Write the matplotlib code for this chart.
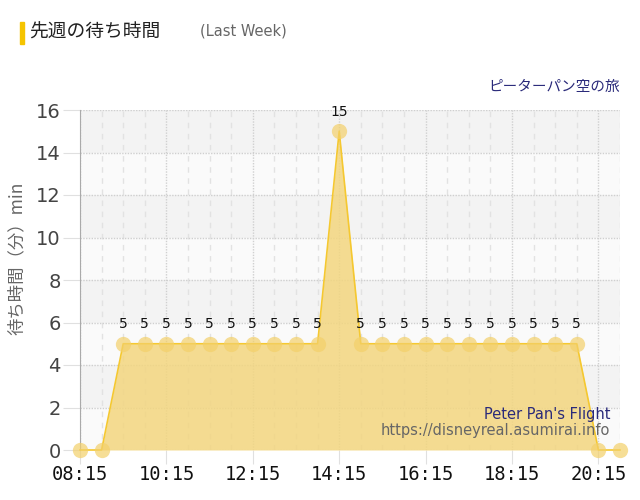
import matplotlib.pyplot as plt
from matplotlib.patches import Rectangle

plt.rcParams['font.family'] = ['Noto Sans CJK JP', 'DejaVu Sans']

# data (30 min steps)
times = ["08:15", "08:45", "09:15", "09:45", "10:15", "10:45", "11:15", "11:45",
         "12:15", "12:45", "13:15", "13:45", "14:15", "14:45", "15:15", "15:45",
         "16:15", "16:45", "17:15", "17:45", "18:15", "18:45", "19:15", "19:45",
         "20:15", "20:45"]
wait = [0, 0, 5, 5, 5, 5, 5, 5, 5, 5, 5, 5, 15, 5, 5, 5,
        5, 5, 5, 5, 5, 5, 5, 5, 0, 0]
tick_labels = ["08:15", "10:15", "12:15", "14:15", "16:15", "18:15", "20:15"]
y_ticks = [0, 2, 4, 6, 8, 10, 12, 14, 16]

FILL = "#f3d67f"
LINE = "#f5c830"
MARK = "#f3d06a"


def to_min(s):
    h, m = s.split(":")
    return int(h) * 60 + int(m)


x = [to_min(t) for t in times]

fig = plt.figure(figsize=(6.4, 5.0), dpi=100)
ax = fig.add_axes([0.125, 0.1, 0.84375, 0.68])
ax.set_xlim(x[0], x[-1])
ax.set_ylim(0, 16)

# background bands
for i in range(0, 16, 2):
    col = "#f3f3f3" if (i // 2) % 2 == 1 else "#fafafa"
    ax.add_patch(Rectangle((x[0], i), x[-1] - x[0], 2, color=col, zorder=0, lw=0))

# grid
for xv in x:
    if (xv - x[0]) % 120 == 0:
        ax.axvline(xv, color="#d0d0d0", lw=1, ls=(0, (1, 1)), zorder=1)
    else:
        ax.axvline(xv, color="#e2e2e2", lw=1, ls=(0, (4, 4)), zorder=1)
for yv in y_ticks:
    ax.axhline(yv, color="#cfcfcf", lw=1, ls=(0, (1, 1)), zorder=1)

ax.fill_between(x, wait, 0, color=FILL, alpha=0.85, lw=0, zorder=2)
ax.plot(x, wait, color=LINE, lw=1.2, zorder=3, clip_on=False)
ax.plot(x, wait, "o", ms=11, color=MARK, alpha=0.7, mec="none", zorder=4, clip_on=False)

for xv, v in zip(x, wait):
    if v > 0:
        ax.annotate(str(v), (xv, v), xytext=(0, 9), textcoords="offset points",
                    ha="center", va="bottom", fontsize=10, color="#111111",
                    family="DejaVu Sans", zorder=5)

for s in ["top", "right", "bottom"]:
    ax.spines[s].set_visible(False)
ax.spines["left"].set_color("#aaaaaa")

ax.set_yticks(y_ticks)
ax.set_yticklabels([str(v) for v in y_ticks], fontsize=14, color="#444444",
                   family="DejaVu Sans")
ax.tick_params(axis="y", length=12, color="#e0e0e0", pad=2)
ax.set_xticks([to_min(t) for t in tick_labels])
ax.set_xticklabels(tick_labels, fontsize=13.5, color="#111111", family="DejaVu Sans Mono")
ax.tick_params(axis="x", length=10, color="#e0e0e0", pad=1)

fig.text(17 / 640, 1 - 258 / 500, "待ち時間（分）min", fontsize=12.5, color="#666666",
         rotation=90, va="center", ha="center")

# title
fig.patches.append(Rectangle((20 / 640, 1 - 44 / 500), 4 / 640, 22 / 500,
                             transform=fig.transFigure, color="#f5c400"))
fig.text(29 / 640, 1 - 32 / 500, "先週の待ち時間", fontsize=13.5, color="#222222",
         va="center", ha="left")
fig.text(200 / 640, 1 - 31 / 500, "(Last Week)", fontsize=10.5, color="#666666",
         va="center", ha="left", family="DejaVu Sans")
fig.text(620 / 640, 1 - 87 / 500, "ピーターパン空の旅", fontsize=10.5, color="#2a2a7a",
         va="center", ha="right")
fig.text(610 / 640, 1 - 415 / 500, "Peter Pan's Flight", fontsize=10.5, color="#2a2a7a",
         va="center", ha="right", family="DejaVu Sans")
fig.text(610 / 640, 1 - 431 / 500, "https://disneyreal.asumirai.info", fontsize=10.5,
         color="#666666", va="center", ha="right", family="DejaVu Sans")

fig.savefig("out.png", dpi=100)
